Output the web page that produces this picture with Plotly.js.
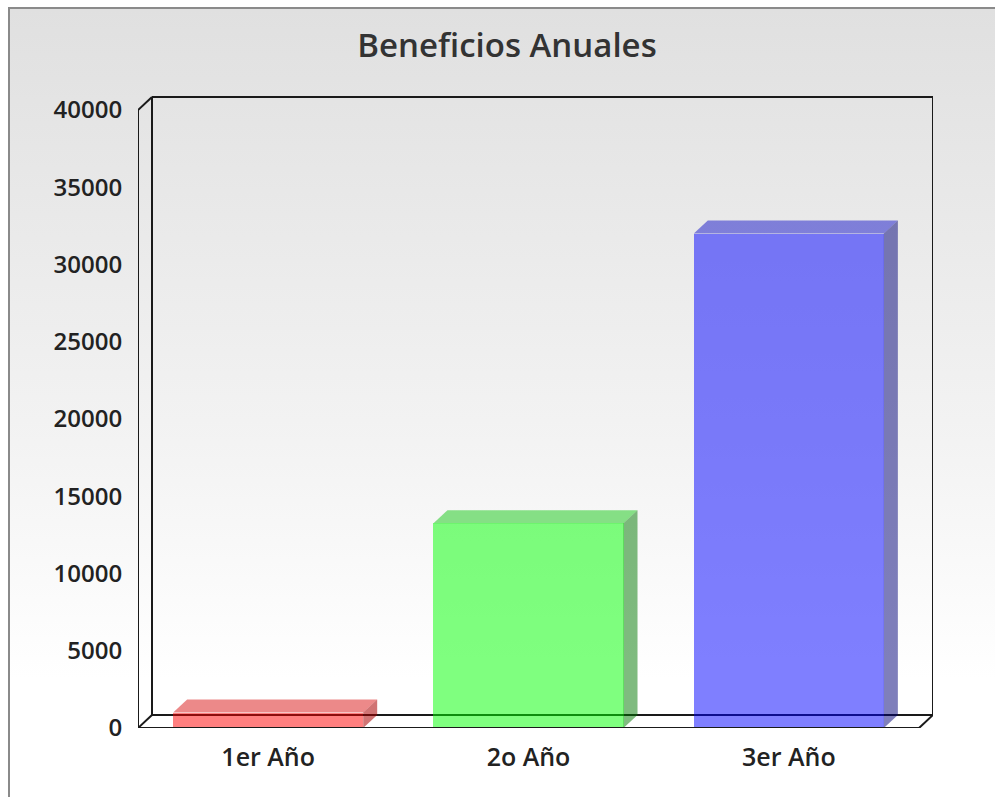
<!DOCTYPE html>
<html>
<head>
<meta charset="utf-8">
<script src="https://cdn.plot.ly/plotly-3.0.1.min.js"></script>
<style>
  html, body { margin: 0; padding: 0; background: #ffffff; }
  #frame {
    position: absolute; left: 8px; top: 7px; width: 987px; height: 790px;
    border-left: 2px solid #8a8a8a; border-top: 2px solid #8a8a8a;
    box-sizing: border-box;
    background: linear-gradient(to bottom, #e0e0e0 0%, #f3f3f3 55%, #ffffff 85%, #ffffff 100%);
  }
  #chart { position: absolute; left: 0; top: 0; width: 995px; height: 801px; }
</style>
</head>
<body>
<div id="frame"></div>
<div id="chart"></div>
<script>
// ---- data ----
const categories = ['1er Año', '2o Año', '3er Año'];
const values = [1000, 13250, 32000];
const frontColors = ['rgba(255,0,0,0.5)', 'rgba(0,255,0,0.5)', 'rgba(0,0,255,0.5)'];
const topColors = ['rgba(220,40,40,0.55)', 'rgba(20,200,20,0.5)', 'rgba(20,20,200,0.5)'];
const sideColors = ['rgba(170,0,0,0.55)', 'rgba(0,120,0,0.5)', 'rgba(0,0,120,0.5)'];
const yTickVals = [0, 5000, 10000, 15000, 20000, 25000, 30000, 35000, 40000];

// ---- geometry (style) ----
const W = 995, H = 801;
const M = { l: 138, r: 62, t: 95, b: 73 };
const plotW = W - M.l - M.r, plotH = H - M.t - M.b;
const dxPx = 14, dyPx = 13, topGapPx = 15;
const yTop = 40000;
const yMax = yTop * plotH / (plotH - topGapPx);
const xMin = -0.5, xFront = categories.length - 0.5;
const xMax = xMin + (xFront - xMin) * plotW / (plotW - dxPx);
const dx = dxPx * (xMax - xMin) / plotW;
const dy = dyPx * yMax / plotH;
const barW = 0.73;
const xs = categories.map((c, i) => i);

const traces = [];
traces.push({
  type: 'bar', x: xs, y: values, width: barW,
  marker: { color: frontColors, line: { width: 0 } },
  hoverinfo: 'skip', showlegend: false
});
values.forEach((v, i) => {
  const x0 = xs[i] - barW / 2, x1 = xs[i] + barW / 2;
  traces.push({
    type: 'scatter', mode: 'lines', fill: 'toself',
    x: [x0, x1, x1 + dx, x0 + dx, x0],
    y: [v, v, v + dy, v + dy, v],
    fillcolor: topColors[i], line: { width: 0 }, hoverinfo: 'skip', showlegend: false
  });
  traces.push({
    type: 'scatter', mode: 'lines', fill: 'toself',
    x: [x1, x1 + dx, x1 + dx, x1, x1],
    y: [0, dy, v + dy, v, 0],
    fillcolor: sideColors[i], line: { width: 0 }, hoverinfo: 'skip', showlegend: false
  });
});

const lineStyle = { color: '#1a1a1a', width: 2 };
function seg(xa, ya, xb, yb, layer) {
  return { type: 'line', xref: 'x', yref: 'y', x0: xa, y0: ya, x1: xb, y1: yb, line: lineStyle, layer: layer };
}
const bx0 = xMin + dx, bx1 = xFront + dx;
const shapes = [
  // back wall
  seg(bx0, dy, bx0, yTop + dy, 'below'),
  seg(bx0, yTop + dy, bx1, yTop + dy, 'below'),
  seg(bx1, yTop + dy, bx1, dy, 'below'),
  seg(bx0, dy, bx1, dy, 'below'),
  // front edges
  seg(xMin, 0, xMin, yTop, 'above'),
  seg(xMin, yTop, bx0, yTop + dy, 'above'),
  seg(xMin, 0, bx0, dy, 'above'),
  seg(xMin, 0, xFront, 0, 'above'),
  seg(xFront, 0, bx1, dy, 'above')
];

const layout = {
  width: W, height: H,
  margin: M,
  paper_bgcolor: 'rgba(0,0,0,0)', plot_bgcolor: 'rgba(0,0,0,0)',
  font: { family: 'Open Sans, sans-serif', color: '#222222' },
  title: {
    text: 'Beneficios Anuales',
    font: { size: 33, color: '#333333', family: 'Open Sans, sans-serif', weight: 600 },
    x: 507 / W, xanchor: 'center', xref: 'container',
    y: 1 - 45 / H, yanchor: 'middle', yref: 'container'
  },
  xaxis: {
    range: [xMin, xMax], tickvals: xs, ticktext: categories,
    showgrid: false, zeroline: false, showline: false,
    ticks: 'outside', ticklen: 7, tickcolor: 'rgba(0,0,0,0)',
    tickfont: { size: 25, color: '#222222', weight: 600 }, fixedrange: true
  },
  yaxis: {
    range: [0, yMax], tickvals: yTickVals, ticktext: yTickVals.map(String),
    showgrid: false, zeroline: false, showline: false,
    ticks: 'outside', ticklen: 10, tickcolor: 'rgba(0,0,0,0)',
    tickfont: { size: 24, color: '#222222', weight: 600 }, fixedrange: true
  },
  shapes: shapes,
  showlegend: false,
  bargap: 0
};

Plotly.newPlot('chart', traces, layout, { displayModeBar: false, staticPlot: true });
</script>
</body>
</html>
